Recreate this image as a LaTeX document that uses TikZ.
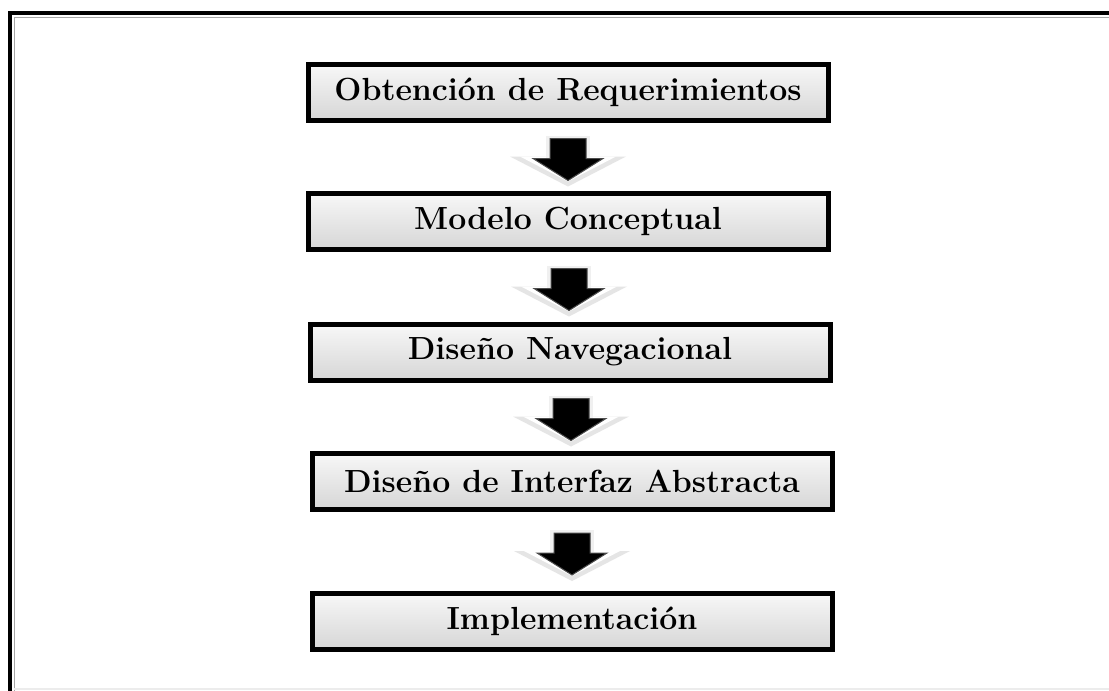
\documentclass[tikz,border=0pt]{standalone}
\usepackage{fontspec}
\usetikzlibrary{calc,shadows}
\tikzset{
  stagebox/.style={draw=black, line width=5pt, rectangle,
    minimum width=520pt, minimum height=56pt, inner sep=0pt,
    top color=gray!6, bottom color=gray!32,
    drop shadow={shadow xshift=2pt, shadow yshift=-3pt, opacity=0.35},
    font=\fontsize{32}{36}\selectfont\bfseries\addfontfeatures{LetterSpace=6}},
  blockarrow/.pic={
    \fill[gray!20] (-58,-3) -- (58,-3) -- (0,27) -- cycle;
    \fill[white] (-48,-3) -- (48,-3) -- (0,22) -- cycle;
    \fill[gray!12] (-22,-24) rectangle (22,-2);
    \filldraw[fill=black, draw=gray!60!black, line width=1pt]
      (-18,-21) -- (18,-21) -- (18,-1) -- (35,-1) -- (0,21) -- (-35,-1) -- (-18,-1) -- cycle;
  }
}
\begin{document}
\begin{tikzpicture}[x=1pt,y=-1pt]
\useasboundingbox (0,0) rectangle (1109,691);
\fill[white] (0,0) rectangle (1109,691);
% outer frame
\draw[black, line width=4pt] (10,691) -- (10,13) -- (1109,13);
\draw[gray!70, line width=1.5pt] (14.5,691) -- (14.5,17.5) -- (1109,17.5);
\draw[gray!15, line width=1.5pt] (14,689) -- (1109,689);
% stages
\node[stagebox] (b1) at (568,92)  {Obtención de Requerimientos};
\node[stagebox] (b2) at (568,221) {Modelo Conceptual};
\node[stagebox] (b3) at (570,352) {Diseño Navegacional};
\node[stagebox] (b4) at (572,481) {Diseño de Interfaz Abstracta};
\node[stagebox] (b5) at (572,621) {Implementación};
% arrows
\foreach \a/\b in {b1/b2,b2/b3,b3/b4,b4/b5}{
  \path ($(\a.south)!0.5!(\b.north)+(0,3)$) pic {blockarrow};
}
\end{tikzpicture}
\end{document}
